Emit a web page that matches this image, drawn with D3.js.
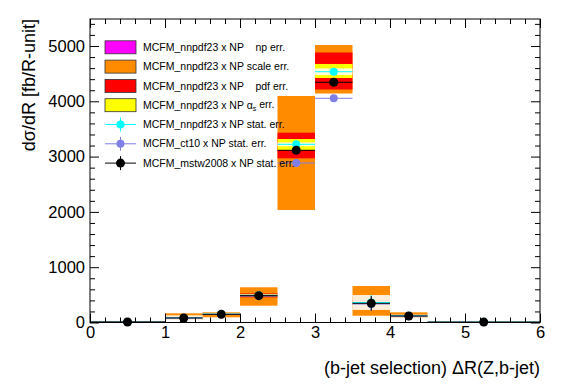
<!DOCTYPE html>
<html>
<head>
<meta charset="utf-8">
<script src="https://cdn.jsdelivr.net/npm/d3@7"></script>
<style>
  body { margin: 0; background: #fff; }
  svg { font-family: "Liberation Sans", Arial, Helvetica, sans-serif; }
  .leg { white-space: pre; }
</style>
</head>
<body>
<div id="chart"></div>
<script>
// bin edges in Delta R
const binEdges = [0, 1, 1.5, 2, 2.5, 3, 3.5, 4, 4.5, 6];

// central values and stat errors
const nnpdfVal  = [10, 85, 152, 492, 3222, 4535, 362, 122, 8];
const nnpdfStat = [3, 45, 14, 14, 35, 60, 135, 20, 3];
const ct10Val   = [8, 78, 145, 478, 2884, 4054, 335, 112, 6];
const ct10Stat  = [3, 14, 14, 25, 30, 40, 130, 20, 3];
const mstwVal   = [9, 82, 148, 485, 3114, 4344, 347, 118, 7];
const mstwStat  = [3, 15, 14, 25, 35, 45, 133, 20, 3];

// uncertainty bands (low / high)
const npLo    = [9, 80, 147, 480, 3150, 4450, 350, 118, 7];
const npHi    = [11, 90, 157, 505, 3300, 4620, 375, 126, 9];
const scaleLo = [3, 45, 94, 304, 2034, 4141, 123, 94, 4];
const scaleHi = [18, 166, 184, 637, 4096, 5018, 660, 184, 12];
const pdfLo   = [8, 70, 140, 455, 2969, 4213, 320, 110, 6];
const pdfHi   = [12, 100, 165, 525, 3432, 4882, 400, 135, 10];
const alphaLo = [9, 78, 147, 475, 3119, 4421, 345, 117, 7];
const alphaHi = [11, 92, 158, 508, 3318, 4675, 380, 127, 9];

const xTicks = [0, 1, 2, 3, 4, 5, 6];
const yTicks = [0, 1000, 2000, 3000, 4000, 5000];

const legendLabels = [
  "MCFM_nnpdf23 x NP    np err.",
  "MCFM_nnpdf23 x NP scale err.",
  "MCFM_nnpdf23 x NP    pdf err.",
  "MCFM_nnpdf23 x NP ",
  "MCFM_nnpdf23 x NP stat. err.",
  "MCFM_ct10 x NP stat. err.",
  "MCFM_mstw2008 x NP stat. err."
];

const W = 567, H = 384;
const margin = { top: 19, right: 27, bottom: 61.5, left: 90 };
const width = W - margin.left - margin.right;
const height = H - margin.top - margin.bottom;

const svg = d3.select("#chart").append("svg")
    .attr("width", W)
    .attr("height", H);

const g = svg.append("g")
    .attr("transform", `translate(${margin.left},${margin.top})`);

const x = d3.scaleLinear().domain([0, 6]).range([0, width]);
const y = d3.scaleLinear().domain([0, 5488]).range([height, 0]);

// build bin records
const bins = nnpdfVal.map((v, i) => ({
  lo: binEdges[i], hi: binEdges[i + 1], mid: (binEdges[i] + binEdges[i + 1]) / 2,
  nn: v, nnS: nnpdfStat[i], ct: ct10Val[i], ctS: ct10Stat[i], mw: mstwVal[i], mwS: mstwStat[i],
  np: [npLo[i], npHi[i]], sc: [scaleLo[i], scaleHi[i]], pdf: [pdfLo[i], pdfHi[i]], al: [alphaLo[i], alphaHi[i]]
}));

// bands
const bandDefs = [
  { key: "np", color: "#ff00ff" },
  { key: "sc", color: "#ff8c00" },
  { key: "pdf", color: "#ff0000" },
  { key: "al", color: "#ffff00" }
];
bandDefs.forEach(b => {
  g.selectAll(".band-" + b.key)
      .data(bins)
      .enter().append("rect")
      .attr("x", d => x(d.lo))
      .attr("width", d => x(d.hi) - x(d.lo))
      .attr("y", d => y(d[b.key][1]))
      .attr("height", d => y(d[b.key][0]) - y(d[b.key][1]))
      .attr("fill", b.color);
});

// nnpdf stat band (white fill, drawn over the others)
g.selectAll(".statband")
    .data(bins)
    .enter().append("rect")
    .attr("x", d => x(d.lo))
    .attr("width", d => x(d.hi) - x(d.lo))
    .attr("y", d => y(d.nn + d.nnS))
    .attr("height", d => y(d.nn - d.nnS) - y(d.nn + d.nnS))
    .attr("fill", "#ffffff")
    .attr("fill-opacity", 0.85);

// series with markers
const series = [
  { v: "nn", s: "nnS", color: "#00ffff", r: 4 },
  { v: "ct", s: "ctS", color: "#7f7fe6", r: 4 },
  { v: "mw", s: "mwS", color: "#000000", r: 4.5 }
];
series.forEach(sr => {
  g.selectAll(null).data(bins).enter().append("line")
      .attr("x1", d => x(d.lo)).attr("x2", d => x(d.hi))
      .attr("y1", d => y(d[sr.v])).attr("y2", d => y(d[sr.v]))
      .attr("stroke", sr.color).attr("stroke-width", 1);
  g.selectAll(null).data(bins).enter().append("line")
      .attr("x1", d => x(d.mid)).attr("x2", d => x(d.mid))
      .attr("y1", d => y(d[sr.v] - d[sr.s])).attr("y2", d => y(d[sr.v] + d[sr.s]))
      .attr("stroke", sr.color).attr("stroke-width", 1);
  g.selectAll(null).data(bins).enter().append("circle")
      .attr("cx", d => x(d.mid)).attr("cy", d => y(d[sr.v]))
      .attr("r", sr.r)
      .attr("fill", sr.color);
});

// axes: ticks pointing inward
const xMinor = d3.range(0, 6.001, 0.2).filter(v => Math.abs(v - Math.round(v)) > 1e-6);
const yMinor = d3.range(0, 5488, 200).filter(v => v % 1000 !== 0);

function styleAxis(sel) {
  sel.select(".domain").remove();
  sel.selectAll("line").attr("stroke", "#000");
  sel.selectAll("text").attr("fill", "#000").style("font-size", "16.5px");
}

g.append("g").attr("transform", `translate(0,${height})`)
    .call(d3.axisBottom(x).tickValues(xTicks).tickSizeInner(-9).tickSizeOuter(0).tickPadding(4).tickFormat(d3.format("d")))
    .call(styleAxis);
g.append("g").attr("transform", `translate(0,${height})`)
    .call(d3.axisBottom(x).tickValues(xMinor).tickSizeInner(-5).tickSizeOuter(0).tickFormat(""))
    .call(styleAxis);
g.append("g")
    .call(d3.axisTop(x).tickValues(xTicks).tickSizeInner(-9).tickSizeOuter(0).tickFormat(""))
    .call(styleAxis);
g.append("g")
    .call(d3.axisTop(x).tickValues(xMinor).tickSizeInner(-5).tickSizeOuter(0).tickFormat(""))
    .call(styleAxis);

g.append("g")
    .call(d3.axisLeft(y).tickValues(yTicks).tickSizeInner(-9).tickSizeOuter(0).tickPadding(5).tickFormat(d3.format("d")))
    .call(styleAxis);
g.append("g")
    .call(d3.axisLeft(y).tickValues(yMinor).tickSizeInner(-5).tickSizeOuter(0).tickFormat(""))
    .call(styleAxis);
g.append("g").attr("transform", `translate(${width},0)`)
    .call(d3.axisRight(y).tickValues(yTicks).tickSizeInner(-9).tickSizeOuter(0).tickFormat(""))
    .call(styleAxis);
g.append("g").attr("transform", `translate(${width},0)`)
    .call(d3.axisRight(y).tickValues(yMinor).tickSizeInner(-5).tickSizeOuter(0).tickFormat(""))
    .call(styleAxis);

// frame
g.append("rect")
    .attr("x", 0).attr("y", 0)
    .attr("width", width).attr("height", height)
    .attr("fill", "none")
    .attr("stroke", "#000")
    .attr("stroke-width", 1);

// axis titles
svg.append("text")
    .attr("x", margin.left + width)
    .attr("y", 374)
    .attr("text-anchor", "end")
    .style("font-size", "18px")
    .text("(b-jet selection) \u0394R(Z,b-jet)");

svg.append("text")
    .attr("transform", `translate(35,${margin.top}) rotate(-90)`)
    .attr("text-anchor", "end")
    .style("font-size", "18px")
    .text("d\u03c3/dR [fb/R-unit]");

// legend
const legend = svg.append("g").attr("transform", "translate(105,47.3)");
const rowH = 19.3;
const boxColors = ["#ff00ff", "#ff8c00", "#ff0000", "#ffff00"];
const markColors = ["#00ffff", "#7f7fe6", "#000000"];

legendLabels.forEach((lab, i) => {
  const row = legend.append("g").attr("transform", `translate(0,${i * rowH})`);
  if (i < 4) {
    row.append("rect")
        .attr("x", 0).attr("y", -6.5)
        .attr("width", 31).attr("height", 13)
        .attr("fill", boxColors[i])
        .attr("stroke", "#333").attr("stroke-width", 0.8);
  } else {
    const c = markColors[i - 4];
    row.append("line").attr("x1", 0).attr("x2", 31).attr("y1", 0).attr("y2", 0)
        .attr("stroke", c);
    row.append("line").attr("x1", 15.5).attr("x2", 15.5).attr("y1", -7).attr("y2", 7)
        .attr("stroke", c);
    row.append("circle").attr("cx", 15.5).attr("cy", 0).attr("r", i === 6 ? 4.5 : 4)
        .attr("fill", c);
  }
  const t = row.append("text")
      .attr("class", "leg")
      .attr("x", 38).attr("y", 0).attr("dy", "0.35em")
      .style("font-size", "10.5px")
      .text(lab);
  if (i === 3) {
    t.append("tspan").text("\u03b1");
    t.append("tspan").attr("dy", "0.3em").style("font-size", "7px").text("s");
    t.append("tspan").attr("dy", "-0.3em").text(" err.");
  }
});
</script>
</body>
</html>
